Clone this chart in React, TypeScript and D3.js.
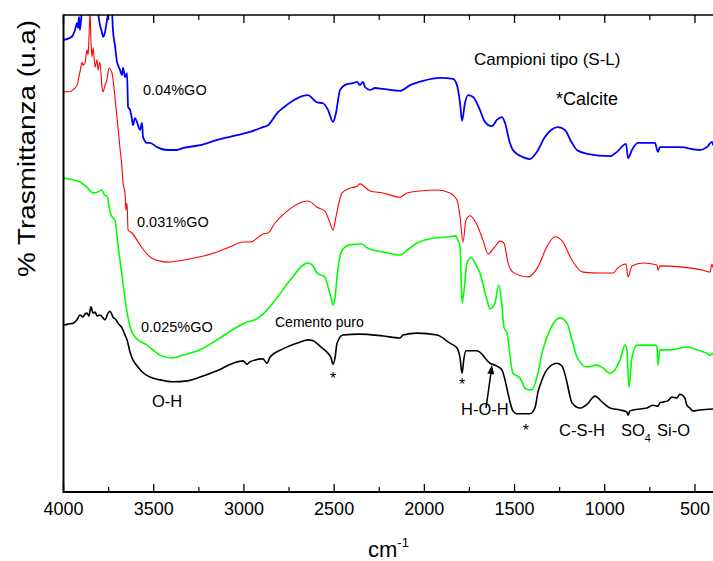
import React from "react";
import * as d3 from "d3";

// FTIR spectra (transmittance, arbitrary units) of cement pastes with graphene oxide
// Each series: [wavenumber cm^-1, % transmittance (u.a.)]

const cementoPuro: [number, number][] = [
  [4000, 35.0], [3975, 35.2], [3947, 35.4], [3925, 36.1], [3909, 37.1], [3892, 36.7],
  [3881, 37.3], [3870, 37.5], [3859, 36.9], [3848, 38.8], [3836, 37.5], [3825, 37.7],
  [3814, 36.9], [3798, 37.1], [3781, 36.5], [3770, 36.1], [3753, 37.5], [3742, 37.9],
  [3726, 36.7], [3709, 36.1], [3698, 35.4], [3676, 34.4], [3659, 32.9], [3648, 31.9],
  [3631, 29.3], [3615, 27.7], [3587, 26.2], [3565, 25.2], [3521, 24.1], [3465, 23.5],
  [3393, 23.1], [3315, 23.3], [3243, 24.1], [3149, 25.4], [3060, 27.0], [3005, 27.5],
  [2983, 26.8], [2966, 27.3], [2894, 27.9], [2872, 27.0], [2855, 28.3], [2784, 30.0],
  [2690, 31.4], [2645, 31.9], [2617, 31.7], [2567, 30.2], [2534, 29.1], [2517, 28.1],
  [2506, 26.8], [2495, 28.1], [2484, 31.2], [2451, 32.9], [2357, 33.1], [2229, 32.7],
  [2135, 32.3], [2118, 32.9], [2040, 33.3], [1930, 32.9], [1858, 31.2], [1819, 30.2],
  [1802, 28.1], [1791, 24.9], [1780, 28.1], [1769, 29.6], [1708, 29.6], [1636, 27.0],
  [1598, 26.4], [1570, 25.6], [1553, 23.5], [1537, 20.8], [1509, 17.0], [1487, 16.4],
  [1415, 16.4], [1387, 17.6], [1370, 21.0], [1360, 22.2], [1321, 25.6], [1265, 27.0],
  [1237, 26.4], [1209, 22.9], [1193, 20.1], [1182, 18.7], [1137, 17.6], [1098, 18.4],
  [1054, 20.1], [1015, 18.9], [971, 17.6], [915, 17.2], [877, 16.8], [871, 16.1],
  [860, 17.0], [843, 17.2], [766, 17.6], [733, 18.2], [705, 18.0], [694, 18.7],
  [650, 19.1], [628, 19.9], [600, 19.7], [584, 20.5], [556, 19.7], [545, 18.2],
  [528, 17.6], [512, 17.0], [473, 17.2], [400, 17.4],
];

const go0025: [number, number][] = [
  [4000, 65.8], [3964, 65.6], [3909, 65.0], [3870, 63.9], [3836, 62.7], [3809, 62.9],
  [3787, 63.3], [3770, 62.1], [3759, 62.1], [3742, 58.7], [3726, 57.4], [3715, 57.0],
  [3698, 51.8], [3676, 45.5], [3654, 39.2], [3631, 34.6], [3604, 32.5], [3537, 30.8],
  [3465, 28.7], [3399, 28.1], [3338, 28.7], [3243, 29.8], [3149, 31.9], [3038, 34.6],
  [2983, 35.6], [2939, 36.1], [2894, 37.3], [2866, 38.4], [2817, 40.7], [2745, 44.4],
  [2645, 48.0], [2617, 47.4], [2595, 45.9], [2551, 45.1], [2534, 43.0], [2517, 40.7],
  [2506, 39.2], [2495, 40.7], [2484, 45.1], [2456, 50.7], [2412, 51.8], [2346, 52.0],
  [2318, 51.2], [2229, 50.3], [2135, 49.7], [2096, 50.7], [2040, 52.2], [1952, 53.2],
  [1858, 53.5], [1825, 53.7], [1819, 53.2], [1802, 51.4], [1791, 39.6], [1780, 42.3],
  [1763, 48.2], [1741, 49.1], [1714, 47.6], [1692, 45.9], [1653, 40.3], [1636, 38.4],
  [1609, 39.6], [1587, 43.4], [1570, 39.2], [1559, 34.6], [1542, 33.3], [1509, 24.9],
  [1470, 23.9], [1437, 21.6], [1404, 21.4], [1376, 24.1], [1343, 29.8], [1304, 34.0],
  [1248, 36.5], [1209, 35.4], [1182, 31.9], [1154, 28.3], [1098, 26.2], [1043, 26.6],
  [1010, 26.0], [971, 24.9], [915, 27.7], [888, 30.8], [877, 29.8], [866, 22.0],
  [849, 28.3], [821, 30.8], [722, 30.8], [711, 30.6], [705, 26.6], [694, 29.8],
  [639, 29.8], [545, 30.4], [473, 29.6], [434, 29.1], [417, 28.7], [400, 29.1],
];

const go0031: [number, number][] = [
  [4000, 83.9], [3964, 83.9], [3947, 84.3], [3925, 85.3], [3909, 88.0], [3897, 90.1],
  [3892, 89.5], [3881, 89.9], [3870, 92.7], [3864, 91.6], [3859, 94.8], [3853, 100.6],
  [3848, 94.8], [3842, 91.2], [3836, 93.1], [3825, 89.1], [3814, 90.6], [3809, 88.5],
  [3798, 90.1], [3787, 84.9], [3781, 83.9], [3770, 85.3], [3759, 86.4], [3748, 88.9],
  [3731, 87.8], [3715, 82.8], [3698, 76.5], [3687, 72.1], [3676, 68.1], [3670, 64.8],
  [3659, 62.7], [3654, 59.1], [3648, 60.6], [3642, 54.9], [3620, 54.3], [3576, 51.8],
  [3521, 49.3], [3465, 48.4], [3421, 48.2], [3338, 48.6], [3243, 49.3], [3149, 50.3],
  [3077, 51.4], [3005, 52.4], [2966, 52.4], [2894, 54.1], [2866, 54.3], [2828, 56.4],
  [2784, 58.1], [2645, 61.0], [2595, 59.7], [2551, 58.9], [2523, 56.4], [2506, 54.9],
  [2490, 57.7], [2456, 62.7], [2412, 63.7], [2373, 64.1], [2357, 64.6], [2301, 63.1],
  [2229, 62.7], [2135, 61.8], [2096, 62.7], [2024, 63.1], [1930, 63.3], [1858, 62.7],
  [1819, 61.2], [1802, 57.7], [1786, 52.4], [1769, 57.0], [1747, 57.9], [1708, 56.0],
  [1675, 52.8], [1647, 49.9], [1609, 51.4], [1581, 52.6], [1559, 52.2], [1537, 48.2],
  [1509, 46.1], [1426, 45.1], [1370, 47.2], [1321, 51.4], [1276, 53.5], [1232, 52.4],
  [1182, 48.6], [1120, 46.1], [1026, 45.9], [954, 45.9], [927, 47.0], [882, 47.8],
  [871, 45.1], [849, 47.4], [788, 48.0], [711, 47.6], [705, 46.5], [694, 47.4],
  [584, 47.2], [456, 46.5], [417, 46.1], [406, 47.8], [400, 47.0],
];

const go004: [number, number][] = [
  [4000, 94.8], [3964, 95.2], [3947, 95.8], [3936, 96.9], [3925, 98.3], [3920, 97.3],
  [3914, 99.6], [3909, 96.9], [3903, 98.9], [3897, 101.0], [3864, 102.0], [3825, 101.5],
  [3809, 100.4], [3798, 97.9], [3787, 96.4], [3781, 95.4], [3770, 96.4], [3759, 98.9],
  [3753, 100.4], [3742, 101.5], [3731, 100.4], [3726, 96.9], [3715, 93.7], [3703, 90.1],
  [3698, 89.5], [3687, 88.5], [3676, 87.4], [3670, 88.9], [3659, 87.0], [3648, 87.8],
  [3642, 80.7], [3631, 80.1], [3620, 78.0], [3615, 76.9], [3604, 78.4], [3593, 77.6],
  [3576, 75.9], [3565, 77.4], [3559, 74.4], [3537, 73.2], [3521, 73.2], [3482, 72.3],
  [3426, 71.7], [3371, 71.7], [3338, 72.1], [3243, 72.7], [3149, 73.8], [3038, 74.8],
  [2966, 75.5], [2894, 76.5], [2866, 76.9], [2817, 79.4], [2784, 80.5], [2645, 83.2],
  [2595, 81.7], [2562, 81.5], [2534, 80.1], [2506, 77.6], [2490, 79.4], [2467, 84.3],
  [2429, 85.5], [2395, 85.7], [2373, 86.0], [2357, 85.3], [2340, 86.0], [2329, 84.9],
  [2301, 84.3], [2273, 84.7], [2229, 84.5], [2135, 84.1], [2079, 85.3], [2007, 86.2],
  [1913, 86.8], [1841, 86.6], [1819, 85.3], [1802, 81.5], [1791, 77.8], [1775, 81.5],
  [1758, 83.2], [1730, 82.8], [1692, 80.1], [1664, 77.6], [1625, 76.7], [1598, 78.0],
  [1570, 78.6], [1553, 77.4], [1526, 73.2], [1509, 71.7], [1454, 70.2], [1415, 69.8],
  [1376, 71.3], [1332, 74.4], [1259, 76.5], [1221, 75.9], [1182, 73.2], [1154, 71.7],
  [1098, 70.9], [971, 70.4], [932, 71.3], [882, 73.0], [871, 70.0], [849, 71.7],
  [816, 73.2], [722, 73.2], [705, 71.3], [694, 72.3], [584, 72.3], [473, 71.7],
  [434, 72.3], [406, 73.4], [400, 72.7],
];

const majorTicks = [4000, 3500, 3000, 2500, 2000, 1500, 1000, 500];
const minorTicks = [3750, 3250, 2750, 2250, 1750, 1250, 750];

const series = [
  { name: "Cemento puro", data: cementoPuro, color: "#000000", width: 1.6 },
  { name: "0.025%GO", data: go0025, color: "#00ff00", width: 1.6 },
  { name: "0.031%GO", data: go0031, color: "#ff0000", width: 1.1 },
  { name: "0.04%GO", data: go004, color: "#0000ff", width: 1.8 },
];

const W = 713;
const H = 561;
const plot = { left: 63.5, right: 713, top: 15, bottom: 492 };
const FONT = "'Liberation Sans', Arial, Helvetica, sans-serif";

export default function App() {
  const x = d3.scaleLinear().domain([4000, 400]).range([plot.left, plot.right]);
  const y = d3.scaleLinear().domain([0, 100]).range([plot.bottom, plot.top]);
  const line = d3
    .line<[number, number]>()
    .x((d) => x(d[0]))
    .y((d) => y(d[1]))
    .curve(d3.curveMonotoneX);

  // peak markers for calcite bands
  const calcite: [number, number][] = [
    [2506, 22.6],
    [1791, 21.3],
    [1437, 11.8],
  ];

  const arrowTail: [number, number] = [1658, 17.6];
  const arrowTip: [number, number] = [1625, 26.6];
  const ax0 = x(arrowTail[0]);
  const ay0 = y(arrowTail[1]);
  const ax1 = x(arrowTip[0]);
  const ay1 = y(arrowTip[1]);
  const ang = Math.atan2(ay1 - ay0, ax1 - ax0);
  const hl = 9;
  const hw = 3.5;
  const bx = ax1 - hl * Math.cos(ang);
  const by = ay1 - hl * Math.sin(ang);
  const head = [
    [ax1, ay1],
    [bx + hw * Math.sin(ang), by - hw * Math.cos(ang)],
    [bx - hw * Math.sin(ang), by + hw * Math.cos(ang)],
  ]
    .map((p) => p.join(","))
    .join(" ");

  return (
    <svg
      width={W}
      height={H}
      style={{ position: "absolute", left: 0, top: 0, background: "#fff" }}
      fontFamily={FONT}
    >
      <defs>
        <clipPath id="plot-area">
          <rect x={plot.left} y={plot.top} width={plot.right - plot.left} height={plot.bottom - plot.top} />
        </clipPath>
      </defs>
      <rect x={0} y={0} width={W} height={H} fill="#fff" />

      <g clipPath="url(#plot-area)">
        {series.map((s) => (
          <path
            key={s.name}
            d={line(s.data) || ""}
            fill="none"
            stroke={s.color}
            strokeWidth={s.width}
            strokeLinejoin="round"
          />
        ))}
      </g>

      {/* frame */}
      <line x1={plot.left} x2={plot.right} y1={plot.top} y2={plot.top} stroke="#000" strokeWidth={1.5} />
      <line x1={plot.left} x2={plot.right} y1={plot.bottom} y2={plot.bottom} stroke="#000" strokeWidth={2} />
      <line x1={plot.left} x2={plot.left} y1={plot.top - 0.75} y2={plot.bottom + 1} stroke="#000" strokeWidth={2} />

      {/* ticks */}
      {majorTicks.map((t) => (
        <g key={"M" + t}>
          <line x1={x(t)} x2={x(t)} y1={plot.bottom} y2={plot.bottom - 8} stroke="#000" strokeWidth={1.3} />
          <line x1={x(t)} x2={x(t)} y1={plot.top} y2={plot.top + 8} stroke="#000" strokeWidth={1.3} />
          <text x={x(t)} y={plot.bottom + 23} textAnchor="middle" fontSize={18}>
            {t}
          </text>
        </g>
      ))}
      {minorTicks.map((t) => (
        <g key={"m" + t}>
          <line x1={x(t)} x2={x(t)} y1={plot.bottom} y2={plot.bottom - 5} stroke="#000" strokeWidth={1.2} />
          <line x1={x(t)} x2={x(t)} y1={plot.top} y2={plot.top + 5} stroke="#000" strokeWidth={1.2} />
        </g>
      ))}

      {/* axis titles */}
      <text x={368} y={557} fontSize={22}>
        cm
        <tspan dy={-10} fontSize={13}>
          -1
        </tspan>
      </text>
      <text
        transform={`translate(35, 277) rotate(-90)`}
        fontSize={23}
        textLength={257}
        lengthAdjust="spacingAndGlyphs"
      >
        % Trasmittanza (u.a)
      </text>

      {/* annotations */}
      <text x={474} y={65} fontSize={17}>
        Campioni tipo (S-L)
      </text>
      <text x={556} y={105} fontSize={18}>
        *Calcite
      </text>
      <text x={143} y={95} fontSize={14.5}>
        0.04%GO
      </text>
      <text x={137} y={227} fontSize={14.5}>
        0.031%GO
      </text>
      <text x={141} y={332} fontSize={14.5}>
        0.025%GO
      </text>
      <text x={275} y={327} fontSize={14}>
        Cemento puro
      </text>
      <text x={152} y={407} fontSize={16.5}>
        O-H
      </text>
      <text x={461} y={415} fontSize={16.5}>
        H-O-H
      </text>
      <text x={559} y={436} fontSize={16.5}>
        C-S-H
      </text>
      <text x={621} y={436} fontSize={16.5}>
        SO<tspan dy={6} fontSize={11}>4</tspan>
      </text>
      <text x={657} y={436} fontSize={16.5}>
        Si-O
      </text>
      {calcite.map(([wn, v], i) => (
        <text key={i} x={x(wn)} y={y(v)} textAnchor="middle" fontSize={16}>
          *
        </text>
      ))}
      <line x1={ax0} y1={ay0} x2={bx} y2={by} stroke="#000" strokeWidth={1.5} />
      <polygon points={head} fill="#000" />
    </svg>
  );
}
